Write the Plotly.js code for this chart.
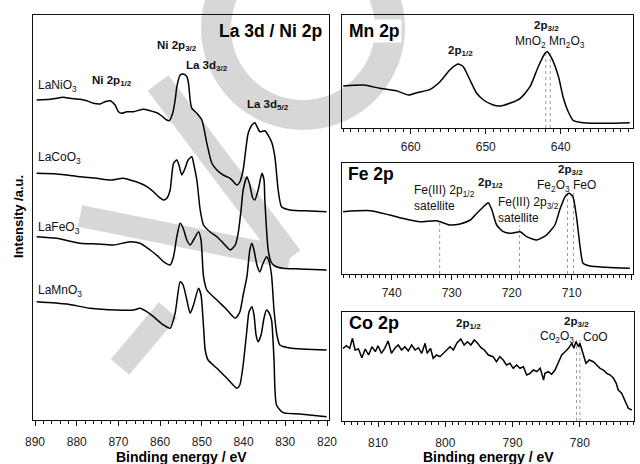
<!DOCTYPE html>
<html><head><meta charset="utf-8">
<script src="https://cdn.plot.ly/plotly-3.0.1.min.js"></script>
<style>html,body{margin:0;padding:0;background:#fff}#chart{width:640px;height:464px}</style>
</head><body><div id="chart"></div>
<script>
// ---- La 3d / Ni 2p panel (binding energy eV, intensity a.u.) ----
const niE = [889.6, 886.4, 883.2, 881.6, 879.2, 877.6, 876.0, 874.4, 873.2, 872.0, 870.8, 870.0, 869.2, 868.0, 866.4, 864.0, 862.4, 860.8, 859.6, 858.4, 857.8, 857.0, 856.4, 856.0, 855.2, 854.4, 853.6, 853.2, 852.8, 852.4, 851.2, 850.0, 848.8, 847.6, 846.4, 844.9, 843.2, 841.6, 840.9, 840.1, 838.9, 838.0, 837.3, 836.1, 834.9, 833.3, 832.5, 831.7, 830.9, 828.9, 824.0, 820.1];
const niI = [320, 320.7, 322.7, 321.7, 320.7, 319.3, 316.7, 316, 318.3, 319.3, 315, 308.3, 306.7, 308.3, 308.3, 310.7, 309.3, 307.3, 304, 300, 299.3, 306.7, 320, 333.3, 345, 346, 343.3, 336.7, 320, 311.7, 306.7, 300, 276.7, 256.7, 250, 245, 241.7, 235, 238, 250, 286.7, 295, 297.3, 288.3, 289.3, 278.3, 263.3, 230, 213.3, 210, 209, 208.3];

const lcoE = [889.6, 884.8, 879.2, 875.2, 872.0, 868.8, 867.2, 864.8, 863.2, 861.6, 860.4, 859.2, 858.4, 857.6, 856.8, 856.0, 855.5, 854.8, 854.0, 853.3, 852.4, 851.9, 851.2, 850.4, 849.6, 848.0, 846.4, 844.9, 843.2, 842.0, 841.3, 840.6, 840.1, 839.2, 838.5, 837.8, 837.3, 836.5, 835.6, 835.1, 834.9, 834.1, 833.4, 832.5, 830.5, 826.5, 820.1];
const lcoI = [246.7, 246, 243.3, 241.7, 240, 241.7, 240, 236.7, 233.3, 228.3, 223.3, 220, 221.7, 230, 256.7, 260, 255, 245, 252, 260, 263.3, 255, 240, 210, 195, 188, 183.3, 177, 170, 175, 186.7, 210, 230, 243.3, 235, 222, 220, 230, 246.7, 240, 220, 170, 158, 154, 151.7, 151, 150];

const lfeE = [889.6, 884.8, 879.2, 875.2, 871.2, 867.2, 864.8, 862.4, 860.4, 859.2, 857.6, 856.8, 856.0, 855.2, 854.5, 853.6, 852.8, 852.0, 850.8, 850.2, 849.6, 848.8, 846.4, 844.4, 842.0, 840.9, 840.1, 839.2, 838.5, 838.0, 837.5, 836.8, 836.1, 835.4, 834.5, 834.0, 833.3, 832.7, 832.0, 831.3, 828.9, 820.1];
const lfeI = [183.3, 181.7, 176.7, 176, 175, 178.3, 176.7, 170, 163.3, 158.3, 155, 163.3, 183.3, 196.7, 192, 180, 175, 180, 188.3, 180, 143.3, 130, 120, 112, 101.7, 108, 125, 143.3, 170, 176.7, 170, 155, 148, 156, 163.3, 160, 145, 110, 85, 75, 72, 70];

const lmnE = [889.6, 882.4, 876.8, 870.4, 866.4, 864.8, 863.2, 861.6, 859.2, 857.6, 856.4, 855.2, 854.5, 853.6, 852.8, 852.0, 850.8, 850.2, 849.6, 849.2, 848.5, 846.4, 844.0, 841.6, 840.9, 840.1, 839.2, 838.7, 838.0, 837.5, 837.0, 836.5, 835.8, 835.1, 834.5, 834.0, 833.3, 832.7, 832.1, 830.5, 826.5, 820.1];
const lmnI = [118.3, 116, 111.7, 110, 110, 111.7, 108.3, 103.3, 95, 91.7, 107, 138.3, 135, 120, 106.7, 115, 131.7, 125, 93.3, 70, 60, 51.7, 41.7, 31.7, 35, 55, 90, 108, 113.3, 105, 85, 78.3, 85, 102, 110, 108, 100, 60, 15, 7.3, 6, 3.3];

// ---- Mn 2p ----
const mnE = [669.0, 666.3, 664.1, 661.9, 660.3, 659.2, 657.4, 656.1, 654.8, 653.7, 653.0, 652.1, 651.2, 650.3, 649.0, 648.1, 646.8, 645.4, 644.1, 643.0, 642.1, 641.8, 641.2, 640.3, 639.7, 639.0, 638.3, 637.0, 633.9, 630.8];
const mnI = [42, 43, 39.7, 37.3, 33, 35.3, 38.7, 46.3, 58, 64, 61.3, 48, 34.7, 28, 23, 22, 24.7, 29.7, 41.3, 61.3, 74.7, 76.3, 69.7, 51.3, 31.3, 16.3, 7.3, 5.3, 4.7, 5.3];
const mnRefE = [642.0, 641.4];

// ---- Fe 2p ----
const feE = [748.1, 743.6, 740.3, 737.5, 735.3, 732.5, 730.3, 728.6, 726.9, 725.8, 724.7, 723.9, 723.3, 722.5, 721.4, 720.0, 718.6, 717.5, 715.8, 714.2, 712.8, 712.0, 711.1, 710.4, 709.8, 709.2, 708.6, 708.1, 707.0, 704.2, 700.3];
const feI = [62.3, 63.3, 59, 54.7, 52.3, 53.3, 49, 50, 54, 60.7, 67.3, 71.3, 64, 49, 42.3, 40.7, 42.3, 37.3, 34, 39, 49, 64, 77.3, 80.7, 77.3, 57.3, 27.3, 10.7, 8, 6.7, 5.7];
const feRefE = [732.0, 718.7, 710.7, 709.7];
const feRefTop = [52, 49, 81, 81];

// ---- Co 2p ----
const coE = [815.2, 814.7, 814.2, 813.8, 813.4, 812.9, 812.4, 811.9, 811.4, 810.9, 810.4, 810.0, 809.5, 809.0, 808.5, 808.0, 807.5, 807.0, 806.5, 806.0, 805.5, 805.0, 804.5, 804.0, 803.5, 803.0, 802.7, 802.2, 801.8, 801.3, 800.8, 800.3, 799.8, 799.3, 798.8, 798.3, 797.7, 797.2, 796.7, 796.2, 795.7, 795.2, 794.7, 794.2, 793.6, 792.9, 792.4, 791.9, 791.4, 790.9, 790.4, 789.9, 789.4, 788.9, 788.4, 787.9, 787.4, 786.9, 786.4, 785.9, 785.4, 785.2, 784.7, 784.2, 783.7, 783.2, 782.7, 782.2, 781.7, 781.2, 780.9, 780.6, 780.2, 780.0, 779.6, 779.1, 778.6, 778.0, 777.5, 777.0, 776.5, 776.0, 775.5, 775.0, 774.6, 774.3, 773.8, 773.3, 772.8, 772.3];
const coI = [72.7, 75.3, 72.7, 82.7, 71, 72, 63.3, 72, 66, 74.3, 69.3, 75.3, 67.7, 72.7, 80, 67.7, 72.7, 76, 71, 74.3, 70, 76, 71, 73.3, 67.7, 77.7, 67.7, 72.7, 62.7, 66, 64.3, 67.7, 71, 74.3, 71, 77.7, 82, 76, 79.3, 76, 81, 77.7, 73.3, 71, 66, 64.3, 59.3, 64.3, 61, 56, 57.7, 52.7, 56, 52.7, 54.3, 46, 47.7, 51, 49.3, 52.7, 41, 47.7, 49.3, 46.7, 51, 59.3, 66, 69.3, 72.7, 77.7, 72.7, 79.3, 74.3, 77.7, 67.7, 57.7, 61, 59.3, 56, 52.7, 51, 47.7, 46, 42.7, 37.7, 31, 27.7, 21, 12.7, 11];
const coRefE = [780.5, 780.0];

// ---------------- figure ----------------
const W = 640, H = 464;
const PX = v => v / W, PY = v => 1 - v / H;
const FONT = 'Liberation Sans, Arial, Helvetica, sans-serif';

function xax(domain, range, minorD, standoff){
  return {domain, range, showline:true, mirror:true, linecolor:'#111', linewidth:1,
    showgrid:false, zeroline:false, ticks:'outside', ticklen:5, tickwidth:1, tickcolor:'#111',
    dtick:10, tick0:0, ticklabelstandoff:standoff,
    tickfont:{family:FONT, size:12, color:'#222'},
    minor:{dtick:minorD, tick0:0, ticks:'outside', ticklen:3, tickwidth:1, tickcolor:'#111'}};
}
function yax(domain, range){
  return {domain, range, showline:true, mirror:true, linecolor:'#111', linewidth:1,
    showgrid:false, zeroline:false, showticklabels:false, ticks:''};
}
function line(x, y, xa, ya, spline){
  return {x, y, xaxis:xa, yaxis:ya, type:'scatter', mode:'lines', hoverinfo:'skip',
    line:{color:'#000', width:1.5, shape: spline ? 'spline' : 'linear', smoothing:0.6}};
}
const data = [
  line(niE, niI, 'x', 'y', true),
  line(lcoE, lcoI, 'x', 'y', true),
  line(lfeE, lfeI, 'x', 'y', true),
  line(lmnE, lmnI, 'x', 'y', true),
  line(mnE, mnI, 'x2', 'y2', true),
  line(feE, feI, 'x3', 'y3', true),
  line(coE, coI, 'x4', 'y4', false)
];

const annotations = [];
function ann(text, x, y, o){
  o = o || {};
  annotations.push(Object.assign({text, x:PX(x), y:PY(y), xref:'paper', yref:'paper',
    showarrow:false, xanchor:o.xa||'center', yanchor:'middle',
    font:{family:FONT, size:o.size||12, color:o.color||'#111'}}, o.extra||{}));
}
const B = s => '<b>' + s + '</b>';
// left panel
ann(B('La 3d / Ni 2p'), 324, 31, {xa:'right', size:17.5, color:'#000'});
ann(B('Ni 2p<sub>3/2</sub>'), 177, 46, {size:11.5});
ann(B('La 3d<sub>3/2</sub>'), 207, 66, {size:11.5});
ann(B('Ni 2p<sub>1/2</sub>'), 112, 81, {size:11.5});
ann(B('La 3d<sub>5/2</sub>'), 268, 105, {size:11.5});
ann('LaNiO<sub>3</sub>', 36, 86, {xa:'left'});
ann('LaCoO<sub>3</sub>', 36, 158, {xa:'left'});
ann('LaFeO<sub>3</sub>', 36, 228, {xa:'left'});
ann('LaMnO<sub>3</sub>', 36, 291, {xa:'left'});
// Mn
ann(B('Mn 2p'), 347, 31, {xa:'left', size:17.5, color:'#000', extra:{bgcolor:'#fff'}});
ann(B('2p<sub>1/2</sub>'), 460, 51, {size:11.5});
ann(B('2p<sub>3/2</sub>'), 546, 26, {size:11.5});
ann('MnO<sub>2</sub> Mn<sub>2</sub>O<sub>3</sub>', 550, 42, {});
// Fe
ann(B('Fe 2p'), 346, 174, {xa:'left', size:17.5, color:'#000'});
ann('Fe(III) 2p<sub>1/2</sub>', 412, 191, {xa:'left'});
ann('satellite', 412, 206, {xa:'left'});
ann(B('2p<sub>1/2</sub>'), 490, 183, {size:11.5});
ann('Fe(III) 2p<sub>3/2</sub>', 496, 203, {xa:'left'});
ann('satellite', 496, 218, {xa:'left'});
ann(B('2p<sub>3/2</sub>'), 570, 170, {size:11.5});
ann('Fe<sub>2</sub>O<sub>3</sub> FeO', 566, 186, {});
// Co
ann(B('Co 2p'), 347, 323, {xa:'left', size:18, color:'#000'});
ann(B('2p<sub>1/2</sub>'), 468, 324, {size:11.5});
ann(B('2p<sub>3/2</sub>'), 576, 322, {size:11.5});
ann('Co<sub>2</sub>O<sub>3</sub>', 576, 337, {xa:'right'});
ann('CoO', 581, 337, {xa:'left'});
// axis titles
ann(B('Binding energy / eV'), 181, 457, {size:14, color:'#000'});
ann(B('Binding energy / eV'), 488, 457, {size:14, color:'#000'});
ann(B('Intensity /a.u.'), 18, 217, {size:13, color:'#000', extra:{textangle:-90}});

const shapes = [];
function refLines(es, tops, xa, ya){
  es.forEach((e, i) => shapes.push({type:'line', xref:xa, yref:ya, x0:e, x1:e, y0:0,
    y1: Array.isArray(tops) ? tops[i] : tops, line:{color:'#9a9a9a', width:1, dash:'dot'}, layer:'below'}));
}
refLines(mnRefE, 76, 'x2', 'y2');
refLines(feRefE, feRefTop, 'x3', 'y3');
refLines(coRefE, 83, 'x4', 'y4');

// faint grey watermark of the source page (decoration, drawn below everything)
const WM = '#d7d7d7';
function polyPath(pts){ return 'M' + pts.map(p => PX(p[0]).toFixed(5) + ',' + PY(p[1]).toFixed(5)).join(' L') + ' Z'; }
function band(x0, y0, x1, y1, hw){
  const dx = x1 - x0, dy = y1 - y0, L = Math.hypot(dx, dy), nx = -dy / L * hw, ny = dx / L * hw;
  return polyPath([[x0 + nx, y0 + ny], [x0 - nx, y0 - ny], [x1 - nx, y1 - ny], [x1 + nx, y1 + ny]]);
}
function ring(cx, cy, R, r){
  const outer = [], inner = [];
  for (let k = 0; k <= 72; k++){ const a = k / 72 * 2 * Math.PI; outer.push([cx + R * Math.cos(a), cy + R * Math.sin(a)]); }
  for (let k = 72; k >= 0; k--){ const a = k / 72 * 2 * Math.PI; inner.push([cx + r * Math.cos(a), cy + r * Math.sin(a)]); }
  return polyPath(outer) + ' ' + polyPath(inner);
}
[ring(303, 28, 102, 72), band(158, 83, 290, 258, 13), band(80, 216, 290, 258, 11), band(120, 367, 168, 310, 12)]
  .forEach(p => shapes.push({type:'path', xref:'paper', yref:'paper', path:p, fillcolor:WM, line:{width:0}, layer:'below', fillrule:'evenodd'}));

const layout = {
  width:W, height:H, margin:{l:0, r:0, t:0, b:0}, showlegend:false,
  paper_bgcolor:'#fff', plot_bgcolor:'rgba(0,0,0,0)', font:{family:FONT, color:'#111'},
  xaxis: Object.assign(xax([PX(33), PX(329)], [890.48, 819.52], 2, 6), {anchor:'y'}),
  yaxis: Object.assign(yax([PY(420), PY(15)], [0, 405]), {anchor:'x'}),
  xaxis2: Object.assign(xax([PX(342), PX(633)], [669.16, 630.37], 1, 3), {anchor:'y2'}),
  yaxis2: Object.assign(yax([PY(128), PY(15)], [0, 113]), {anchor:'x2'}),
  xaxis3: Object.assign(xax([PX(342), PX(633)], [748.28, 699.78], 1, 3), {anchor:'y3'}),
  yaxis3: Object.assign(yax([PY(274), PY(163)], [0, 111]), {anchor:'x3'}),
  xaxis4: Object.assign(xax([PX(342), PX(634)], [815.35, 771.96], 1, 6), {anchor:'y4'}),
  yaxis4: Object.assign(yax([PY(421), PY(312)], [0, 109]), {anchor:'x4'}),
  annotations, shapes
};
Plotly.newPlot('chart', data, layout, {staticPlot:true, displayModeBar:false});
</script>
</body></html>
